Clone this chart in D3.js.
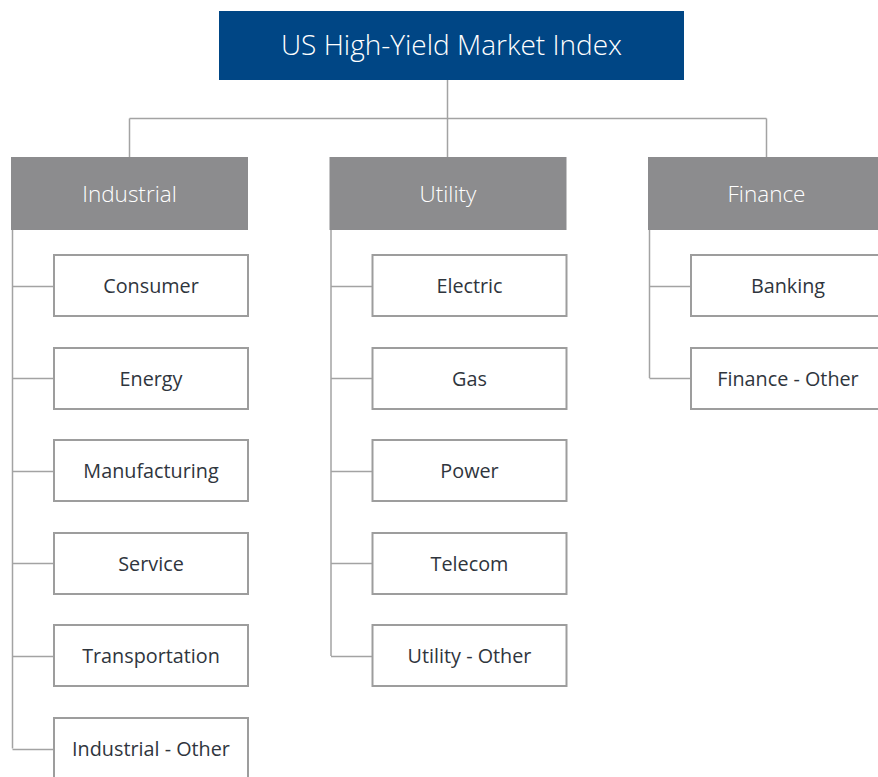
<!DOCTYPE html>
<html>
<head>
<meta charset="utf-8">
<script src="https://cdn.jsdelivr.net/npm/d3@7"></script>
<style>
  html, body { margin: 0; padding: 0; background: #ffffff; }
  svg { display: block; }
</style>
</head>
<body>
<svg id="chart" width="878" height="777"></svg>
<script>
// ---- data ----
const rootLabel = "US High-Yield Market Index";
const sectors = ["Industrial", "Utility", "Finance"];
const industrialSubs = ["Consumer", "Energy", "Manufacturing", "Service", "Transportation", "Industrial - Other"];
const utilitySubs = ["Electric", "Gas", "Power", "Telecom", "Utility - Other"];
const financeSubs = ["Banking", "Finance - Other"];
const subsBySector = [industrialSubs, utilitySubs, financeSubs];

const treeData = {
  name: rootLabel,
  children: sectors.map((s, i) => ({ name: s, children: subsBySector[i].map(n => ({ name: n })) }))
};
const root = d3.hierarchy(treeData);

// ---- layout ----
const svg = d3.select("#chart");
const FONT = "'Open Sans', 'Noto Sans', sans-serif";
const navy = "#004685", gray = "#8c8c8e", lineCol = "#a3a3a3", boxStroke = "#9d9d9d", textCol = "#2f353d";

const rootBox = { x: 219, y: 11, w: 465, h: 69 };
const headW = 237, headH = 73, headTop = 157;
const childOffset = 43, childW = 194, childH = 61;
const busY = 118.5;

const colX = d3.scaleLinear().domain([0, sectors.length - 1]).range([11, 648]);
const rowY = d3.scaleLinear().domain([0, 5]).range([255, 718]);

const lines = svg.append("g").attr("fill", "none").attr("stroke", lineCol).attr("stroke-width", 1.5);

const sectorNodes = root.children;
const centers = sectorNodes.map((d, i) => Math.round(colX(i) + headW / 2) - 0.5);
const rootCx = centers[Math.floor(centers.length / 2)];

// root connector
lines.append("line").attr("x1", rootCx).attr("x2", rootCx).attr("y1", rootBox.y + rootBox.h).attr("y2", busY);
lines.append("line").attr("x1", d3.min(centers)).attr("x2", d3.max(centers)).attr("y1", busY).attr("y2", busY);
sectorNodes.forEach((d, i) => {
  lines.append("line").attr("x1", centers[i]).attr("x2", centers[i]).attr("y1", busY).attr("y2", headTop);
});

// root box
svg.append("rect").attr("x", rootBox.x).attr("y", rootBox.y).attr("width", rootBox.w).attr("height", rootBox.h).attr("fill", navy);
svg.append("text").attr("x", rootBox.x + rootBox.w / 2).attr("y", rootBox.y + rootBox.h / 2 - 1.5)
  .attr("text-anchor", "middle").attr("dominant-baseline", "central")
  .attr("font-family", FONT).attr("font-weight", 300).attr("font-size", 28).attr("fill", "#ffffff").text(root.data.name);

// sectors
sectorNodes.forEach((sec, i) => {
  const x0 = colX(i);
  const spineX = x0 + 1.5;
  const kids = sec.children;
  const lastCy = rowY(kids.length - 1) + childH / 2;
  lines.append("line").attr("x1", spineX).attr("x2", spineX).attr("y1", headTop + headH).attr("y2", lastCy);
  kids.forEach((k, j) => {
    const cy = Math.round(rowY(j) + childH / 2) + 0.5;
    lines.append("line").attr("x1", spineX).attr("x2", x0 + childOffset).attr("y1", cy).attr("y2", cy);
  });

  svg.append("rect").attr("x", x0).attr("y", headTop).attr("width", headW).attr("height", headH).attr("fill", gray);
  svg.append("text").attr("x", x0 + headW / 2).attr("y", headTop + headH / 2 - 0.5)
    .attr("text-anchor", "middle").attr("dominant-baseline", "central")
    .attr("font-family", FONT).attr("font-weight", 300).attr("font-size", 22.5).attr("fill", "#ffffff").text(sec.data.name);

  kids.forEach((k, j) => {
    const bx = x0 + childOffset, by = Math.round(rowY(j));
    svg.append("rect").attr("x", bx).attr("y", by).attr("width", childW).attr("height", childH)
      .attr("fill", "#ffffff").attr("stroke", boxStroke).attr("stroke-width", 2);
    svg.append("text").attr("x", bx + childW / 2).attr("y", by + childH / 2 - 0.5)
      .attr("text-anchor", "middle").attr("dominant-baseline", "central")
      .attr("font-family", FONT).attr("font-size", 19.8).attr("fill", textCol).text(k.data.name);
  });
});
</script>
</body>
</html>
